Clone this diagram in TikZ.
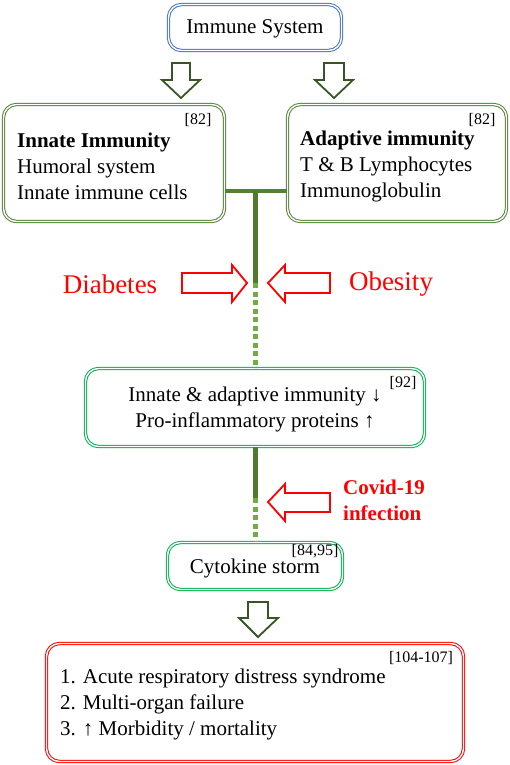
\documentclass[tikz,border=0pt]{standalone}
\usepackage{fontspec}
\setmainfont{Liberation Serif}
\definecolor{boxblue}{HTML}{4472C4}
\definecolor{boxdkgreen}{HTML}{548235}
\definecolor{arrgreen}{HTML}{375623}
\definecolor{boxltgreen}{HTML}{00B050}
\definecolor{linegreen}{HTML}{4F7B2A}
\definecolor{dashgreen}{HTML}{70AD47}
\definecolor{myred}{HTML}{FF0000}
\begin{document}
\begin{tikzpicture}[x=1pt,y=-1pt,
  dbox/.style={draw=#1,double=white,double distance=1.4pt,line width=1pt,rounded corners=13pt,inner sep=0pt},
  body/.style={font=\fontsize{21}{26}\selectfont,inner sep=0pt},
  refs/.style={font=\fontsize{16}{18}\selectfont,inner sep=0pt},
  hollow/.style={draw=#1,line width=1.8pt,fill=white,line join=miter},
  bigred/.style={font=\fontsize{27}{30}\selectfont,text=myred,inner sep=0pt},
  redbold/.style={font=\fontsize{21}{26}\selectfont\bfseries,text=myred,inner sep=0pt,align=left},
  solidcon/.style={draw=linegreen,line width=5pt},
  dashcon/.style={draw=dashgreen,line width=5pt,dash pattern=on 5pt off 3.5pt}
]
\useasboundingbox (0,0) rectangle (510,765);

% boxes
\node[dbox=boxblue,minimum width=173pt,minimum height=46pt] (immune) at (255,27.5) {};
\node[body] (immunet) at (255,29) {Immune System};

\node[dbox=boxdkgreen,minimum width=221pt,minimum height=117pt] (innate) at (114,163) {};
\node[body,align=left,anchor=west] (innatet) at (17,166) {\textbf{Innate Immunity}\\Humoral system\\Innate immune cells};
\node[refs] (innater) at (198,120) {[82]};

\node[dbox=boxdkgreen,minimum width=219pt,minimum height=117pt] (adaptive) at (397,163) {};
\node[body,align=left,anchor=west] (adaptivet) at (300,166) {\textbf{Adaptive immunity}\\T \& B Lymphocytes\\Immunoglobulin};
\node[refs] (adaptiver) at (482,120) {[82]};

\node[dbox=boxltgreen,minimum width=339pt,minimum height=78pt] (mid) at (255,407.5) {};
\node[body,align=center] (midt) at (255,409.5) {Innate \& adaptive immunity ↓\\Pro-inflammatory proteins ↑};
\node[refs] (midr) at (403,383) {[92]};

\node[dbox=boxltgreen,minimum width=175pt,minimum height=47pt] (cyto) at (255,566) {};
\node[body] (cytot) at (255,568) {Cytokine storm};
\node[refs] (cytor) at (315,551) {[84,95]};

\node[dbox=myred,minimum width=417pt,minimum height=118pt] (outcome) at (255,702.5) {};
\node[body,align=left,anchor=west] (outcomet) at (60,704) {1. Acute respiratory distress syndrome\\2. Multi-organ failure\\3. ↑ Morbidity / mortality};
\node[refs] (outcomer) at (421,658) {[104-107]};

% labels
\node[bigred] (diab) at (110,284) {Diabetes};
\node[bigred] (obes) at (391,284) {Obesity};
\node[redbold,anchor=west] (covid) at (343,500) {Covid-19\\infection};

% connectors
\coordinate (j1) at (255,191);
\coordinate (j2) at (255,283);
\coordinate (j3) at (255,498);
\draw[draw=boxdkgreen,line width=1.2pt,double=boxdkgreen,double distance=1.6pt] (innate.east |- j1) -- (adaptive.west |- j1);
\draw[solidcon] (j1) -- (j2);
\draw[dashcon] (j2) -- (mid.north);
\draw[solidcon] (mid.south) -- (j3);
\draw[dashcon] (j3) -- (cyto.north);

% hollow arrows (down, dark green)
\draw[hollow=arrgreen] (172,63) -- (190,63) -- (190,80) -- (200,80) -- (181,98) -- (162,80) -- (172,80) -- cycle;
\draw[hollow=arrgreen] (324,63) -- (344,63) -- (344,80) -- (353,80) -- (334,98) -- (315,80) -- (324,80) -- cycle;
\draw[hollow=arrgreen] (248,602) -- (268,602) -- (268,618) -- (278,618) -- (258,637) -- (239,618) -- (248,618) -- cycle;

% red hollow arrows
\draw[hollow=myred] (182,273) -- (232,273) -- (232,265) -- (247,283) -- (232,302) -- (232,293) -- (182,293) -- cycle;
\draw[hollow=myred] (330,273) -- (285,273) -- (285,265) -- (268,283) -- (285,302) -- (285,293) -- (330,293) -- cycle;
\draw[hollow=myred] (330,493) -- (285,493) -- (285,484) -- (268,502) -- (285,521) -- (285,512) -- (330,512) -- cycle;
\end{tikzpicture}
\end{document}
